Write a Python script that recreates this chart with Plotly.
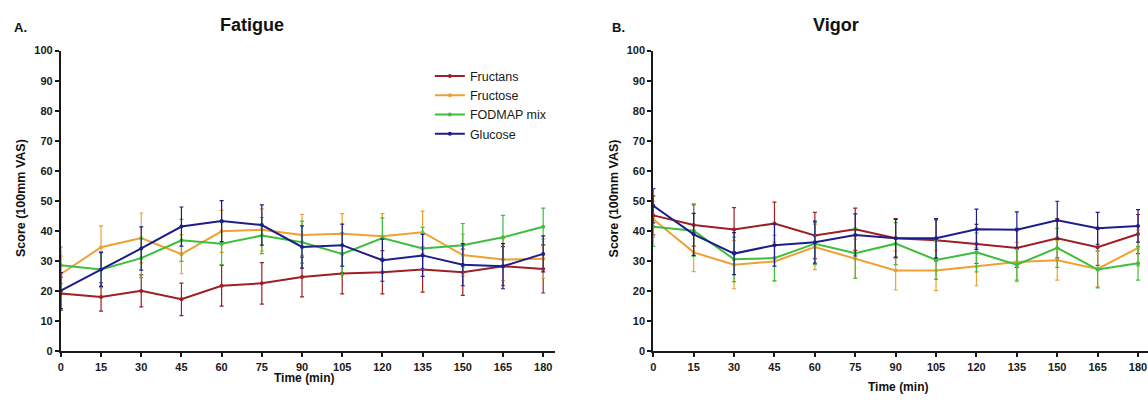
import plotly.graph_objects as go

times = [0, 15, 30, 45, 60, 75, 90, 105, 120, 135, 150, 165, 180]
series_names = ["Fructans", "Fructose", "FODMAP mix", "Glucose"]
colors = ["#9E1F24", "#F0A032", "#3DBE3D", "#1E1E8A"]

# Fatigue (panel A)
fat_fructans = [19.2, 18.1, 20.1, 17.3, 21.8, 22.6, 24.7, 25.9, 26.3, 27.2, 26.3, 28.3, 27.4]
fat_fructose = [25.7, 34.6, 37.7, 32.3, 39.9, 40.4, 38.7, 39.1, 38.3, 39.6, 32.0, 30.5, 30.8]
fat_fodmap = [28.6, 27.2, 31.0, 36.9, 35.8, 38.5, 36.3, 32.4, 37.7, 34.2, 35.3, 37.9, 41.4]
fat_glucose = [20.2, 27.2, 34.2, 41.5, 43.3, 42.0, 34.7, 35.3, 30.3, 31.9, 28.8, 28.3, 32.4]
fat_fructans_se = [5.5, 4.7, 5.3, 5.4, 6.8, 6.9, 6.6, 6.8, 7.2, 7.5, 7.7, 6.5, 8.0]
fat_fructose_se = [6.0, 7.1, 8.3, 6.5, 7.0, 7.0, 6.8, 6.7, 7.5, 7.0, 7.0, 7.0, 6.5]
fat_fodmap_se = [6.1, 6.0, 6.5, 7.0, 7.0, 6.0, 7.0, 7.0, 6.7, 7.0, 7.2, 7.3, 6.2]
fat_glucose_se = [6.0, 5.6, 7.2, 6.5, 6.8, 6.7, 7.0, 7.0, 7.0, 7.0, 7.0, 7.5, 6.0]

# Vigor (panel B)
vig_fructans = [45.2, 42.0, 40.5, 42.5, 38.5, 40.6, 37.6, 36.9, 35.7, 34.4, 37.6, 34.6, 39.0]
vig_fructose = [43.9, 32.9, 28.8, 29.9, 34.7, 30.8, 26.9, 26.9, 28.2, 29.7, 30.3, 27.4, 34.4]
vig_fodmap = [41.4, 40.1, 30.6, 31.0, 35.8, 32.6, 35.8, 30.4, 32.9, 28.8, 34.4, 27.2, 29.3]
vig_glucose = [48.4, 38.9, 32.5, 35.3, 36.3, 38.7, 37.6, 37.6, 40.6, 40.4, 43.6, 40.9, 41.7]
vig_fructans_se = [6.5, 7.0, 7.3, 7.1, 7.7, 7.0, 6.5, 6.8, 6.5, 6.5, 6.5, 6.0, 6.5]
vig_fructose_se = [6.0, 6.4, 8.0, 6.5, 7.5, 6.5, 6.5, 6.7, 6.4, 6.5, 6.6, 6.0, 6.0]
vig_fodmap_se = [6.5, 8.5, 7.4, 7.6, 7.0, 8.3, 7.0, 6.5, 6.5, 5.1, 6.5, 6.1, 5.6]
vig_glucose_se = [5.7, 7.0, 7.0, 7.0, 7.0, 7.0, 6.3, 6.5, 6.7, 6.0, 6.3, 5.3, 5.4]

x_ticks = times
y_ticks = [0, 10, 20, 30, 40, 50, 60, 70, 80, 90, 100]

fatigue = [fat_fructans, fat_fructose, fat_fodmap, fat_glucose]
fatigue_se = [fat_fructans_se, fat_fructose_se, fat_fodmap_se, fat_glucose_se]
vigor = [vig_fructans, vig_fructose, vig_fodmap, vig_glucose]
vigor_se = [vig_fructans_se, vig_fructose_se, vig_fodmap_se, vig_glucose_se]

fig = go.Figure()
for i, name in enumerate(series_names):
    fig.add_trace(go.Scatter(
        x=times, y=fatigue[i], name=name, mode="lines+markers",
        line=dict(color=colors[i], width=2),
        marker=dict(color=colors[i], size=4),
        error_y=dict(type="data", array=fatigue_se[i], color=colors[i], thickness=1.2, width=2),
        xaxis="x", yaxis="y", showlegend=True, legendrank=i,
    ))
for i, name in enumerate(series_names):
    fig.add_trace(go.Scatter(
        x=times, y=vigor[i], name=name, mode="lines+markers",
        line=dict(color=colors[i], width=2),
        marker=dict(color=colors[i], size=4),
        error_y=dict(type="data", array=vigor_se[i], color=colors[i], thickness=1.2, width=2),
        xaxis="x2", yaxis="y2", showlegend=False,
    ))

W, H = 1148, 400
axis_common = dict(
    showgrid=False, zeroline=False, showline=True, linecolor="#1a1a1a", linewidth=2,
    ticks="outside", ticklen=4, tickwidth=1.5, tickcolor="#1a1a1a",
    tickfont=dict(family="Liberation Sans, Arial", size=11, color="#1a1a1a", weight="bold"),
)
y_dom = [(H - 356) / H, (H - 46) / H]

fig.update_layout(
    width=W, height=H,
    margin=dict(l=0, r=0, t=0, b=0),
    paper_bgcolor="white", plot_bgcolor="white",
    xaxis=dict(axis_common, domain=[58 / W, 553.7 / W], range=[0, 184.5],
               tickvals=x_ticks, anchor="y"),
    yaxis=dict(axis_common, domain=y_dom, range=[0, 100], tickvals=y_ticks, anchor="x"),
    xaxis2=dict(axis_common, domain=[652 / W, 1.0], range=[0, 183.7],
                tickvals=x_ticks, anchor="y2"),
    yaxis2=dict(axis_common, domain=y_dom, range=[0, 100], tickvals=y_ticks, anchor="x2"),
    legend=dict(x=428 / W, y=(H - 57) / H, xanchor="left", yanchor="top",
                font=dict(family="Liberation Sans, Arial", size=12.5, color="#1a1a1a"),
                bgcolor="rgba(0,0,0,0)", tracegroupgap=0, itemwidth=30),
    showlegend=True,
)

bold = dict(family="Liberation Sans, Arial", color="#111111", weight="bold")
annots = [
    dict(text="Fatigue", x=250, y=20, size=18),
    dict(text="Vigor", x=835, y=20, size=18),
    dict(text="A.", x=18, y=22, size=13),
    dict(text="B.", x=617, y=22, size=13),
    dict(text="Time (min)", x=302, y=384, size=12),
    dict(text="Time (min)", x=897, y=393, size=12),
]
for a in annots:
    fig.add_annotation(text=a["text"], x=a["x"] / W, y=1 - a["y"] / H, xref="paper", yref="paper",
                       showarrow=False, xanchor="center", yanchor="middle",
                       font=dict(bold, size=a["size"]))
for xx in (18, 613):
    fig.add_annotation(text="Score (100mm VAS)", x=xx / W, y=1 - 198 / H, xref="paper", yref="paper",
                       showarrow=False, textangle=-90, xanchor="center", yanchor="middle",
                       font=dict(bold, size=12.5))

fig.write_html("out.html")
